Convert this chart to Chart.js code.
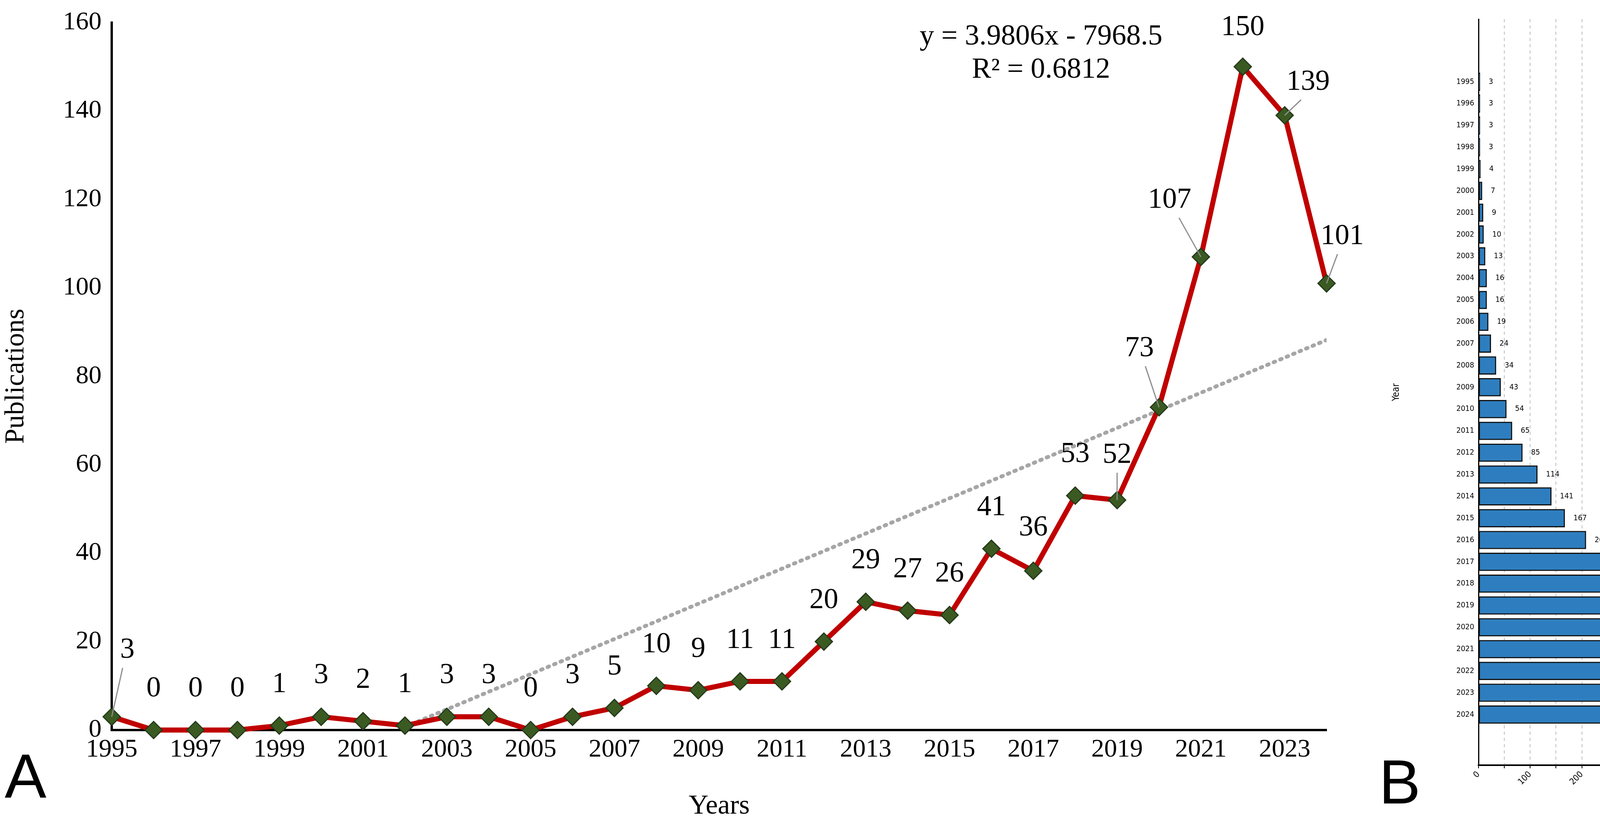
<!DOCTYPE html>
<html>
<head>
<meta charset="utf-8">
<script src="https://cdn.jsdelivr.net/npm/chart.js@4/dist/chart.umd.min.js"></script>
<style>
  body { margin:0; width:5094px; height:2107px; background:#fff; position:relative; overflow:hidden; }
  canvas { position:absolute; top:0; }
  .tag { position:absolute; font-family:"Liberation Sans", Arial, sans-serif; font-size:160px; color:#000; }
</style>
</head>
<body>
<canvas id="chart_a" width="3500" height="2107" style="left:0"></canvas>
<canvas id="chart_b" width="1534" height="2107" style="left:3560px"></canvas>
<div class="tag" style="left:12px;top:1895px">A</div>
<div class="tag" style="left:3530px;top:1910px">B</div>
<script>
const years = [1995,1996,1997,1998,1999,2000,2001,2002,2003,2004,2005,2006,2007,2008,2009,2010,2011,2012,2013,2014,2015,2016,2017,2018,2019,2020,2021,2022,2023,2024]
const publications = [3,0,0,0,1,3,2,1,3,3,0,3,5,10,9,11,11,20,29,27,26,41,36,53,52,73,107,150,139,101]
const totals = [3,3,3,3,4,7,9,10,13,16,16,19,24,34,43,54,65,85,114,141,167,208,244,297,349,422,529,679,818,919]
const trendPoints = [{x:2002, y:0.7}, {x:2024, y:88.2}]
const equation = ["y = 3.9806x - 7968.5", "R² = 0.6812"]
const yTicksA = [0,20,40,60,80,100,120,140,160]

// label offsets (px) for the line chart, [dx, dy, leader]
const labelOffsets = {0:[40,-170,1], 22:[0,-110,0], 24:[0,-115,1], 25:[-50,-150,1], 26:[-80,-145,1], 27:[0,-100,0], 28:[60,-85,1], 29:[40,-120,1]}

const serif = '"Liberation Serif", "Times New Roman", serif'
const sans = '"DejaVu Sans Condensed", "DejaVu Sans", sans-serif'
Chart.defaults.devicePixelRatio = 1

const labelsA = {
  id: 'labelsA',
  afterDatasetsDraw(chart) {
    const ctx = chart.ctx
    const meta = chart.getDatasetMeta(1)
    ctx.save()
    ctx.font = '74px ' + serif
    ctx.fillStyle = '#000'
    ctx.textAlign = 'center'
    ctx.textBaseline = 'middle'
    meta.data.forEach((pt, i) => {
      const off = labelOffsets[i] || [0, -105, 0]
      const lx = pt.x + off[0], ly = pt.y + off[1]
      if (off[2]) {
        ctx.strokeStyle = '#8c8c8c'
        ctx.lineWidth = 3
        ctx.beginPath()
        ctx.moveTo(pt.x, pt.y)
        ctx.lineTo(pt.x + off[0] * 0.7, ly + 45)
        ctx.stroke()
      }
      ctx.fillText(String(publications[i]), lx, ly)
    })
    ctx.fillText(equation[0], 2665, 95)
    ctx.fillText(equation[1], 2665, 180)
    ctx.restore()
  }
}

new Chart(document.getElementById('chart_a'), {
  type: 'line',
  data: {
    datasets: [
      {
        label: 'Trend',
        data: trendPoints,
        borderColor: '#a6a6a6',
        borderWidth: 10,
        borderDash: [4, 14],
        borderCapStyle: 'round',
        pointRadius: 0,
        order: 2
      },
      {
        label: 'Publications',
        data: years.map((y, i) => ({x: y, y: publications[i]})),
        borderColor: '#c00000',
        borderWidth: 13,
        pointStyle: 'rectRot',
        pointRadius: 22,
        pointBackgroundColor: '#3a5a22',
        pointBorderColor: '#25391a',
        pointBorderWidth: 3,
        order: 1,
        clip: false
      }
    ]
  },
  options: {
    responsive: false,
    animation: false,
    layout: { padding: { top: 49, right: 104, left: 0, bottom: 0 } },
    plugins: { legend: { display: false }, tooltip: { enabled: false } },
    scales: {
      x: {
        type: 'linear', min: 1995, max: 2024,
        afterBuildTicks: s => { s.ticks = years.filter(y => y % 2 === 1).map(v => ({value: v})) },
        afterFit: s => { s.height = 238 },
        grid: { display: false, drawTicks: true },
        border: { color: '#000', width: 6 },
        ticks: { color: '#000', font: { family: serif, size: 66 }, callback: v => String(v), maxRotation: 0, autoSkip: false },
        title: { display: true, text: 'Years', color: '#000', font: { family: serif, size: 70 }, padding: 0 }
      },
      y: {
        min: 0, max: 160,
        afterBuildTicks: s => { s.ticks = yTicksA.map(v => ({value: v})) },
        afterFit: s => { s.width = 286 },
        grid: { display: false },
        border: { color: '#000', width: 6 },
        ticks: { color: '#000', font: { family: serif, size: 66 }, padding: 18 },
        title: { display: true, text: 'Publications', color: '#000', font: { family: serif, size: 70 }, padding: 0 }
      }
    }
  },
  plugins: [labelsA]
})

const labelsB = {
  id: 'labelsB',
  afterDatasetsDraw(chart) {
    const ctx = chart.ctx
    const meta = chart.getDatasetMeta(0)
    const a = chart.chartArea
    ctx.save()
    ctx.font = '20px ' + sans
    ctx.fillStyle = '#000'
    ctx.textBaseline = 'middle'
    meta.data.forEach((bar, i) => { ctx.fillText(String(totals[i]), bar.x + 22, bar.y) })
    ctx.strokeStyle = '#000'
    ctx.lineWidth = 3
    ctx.beginPath()
    ctx.moveTo(a.right, a.top); ctx.lineTo(a.right, a.bottom)
    ctx.stroke()
    ctx.restore()
  }
}

new Chart(document.getElementById('chart_b'), {
  type: 'bar',
  data: {
    datasets: [{
      label: 'Total Publications',
      data: years.map((y, i) => ({x: totals[i], y: y})),
      backgroundColor: '#2e7ebf',
      borderColor: '#111',
      borderWidth: 3,
      borderSkipped: false,
      barThickness: 46
    }]
  },
  options: {
    indexAxis: 'y',
    responsive: false,
    animation: false,
    layout: { padding: { top: 49, right: 52, left: 0, bottom: 0 } },
    plugins: { legend: { display: false }, tooltip: { enabled: false } },
    scales: {
      x: {
        type: 'linear', min: 0, max: 950,
        afterBuildTicks: s => { const t = []; for (let v = 0; v <= 950; v += 50) t.push({value: v}); s.ticks = t },
        afterFit: s => { s.height = 148 },
        grid: { color: '#bdbdbd', lineWidth: 2, tickColor: '#000', tickLength: 8 },
        border: { color: '#000', width: 4, dash: [8, 8] },
        ticks: { color: '#000', font: { family: sans, size: 22 }, maxRotation: 45, minRotation: 45, autoSkip: false,
                 callback: v => (v % 100 === 0 ? String(v) : '') },
        title: { display: true, text: 'Total Publications', color: '#000', font: { family: sans, size: 26 }, padding: 0 }
      },
      y: {
        type: 'linear', reverse: true, min: 1992.7, max: 2025.75,
        afterBuildTicks: s => { s.ticks = years.map(v => ({value: v})) },
        afterFit: s => { s.width = 225 },
        grid: { display: false, drawTicks: true },
        border: { color: '#000', width: 3 },
        ticks: { color: '#000', font: { family: sans, size: 20 }, callback: v => String(v), autoSkip: false },
        title: { display: true, text: 'Year', color: '#000', font: { family: sans, size: 24 }, padding: 0 }
      }
    }
  },
  plugins: [labelsB]
})
</script>
</body>
</html>
